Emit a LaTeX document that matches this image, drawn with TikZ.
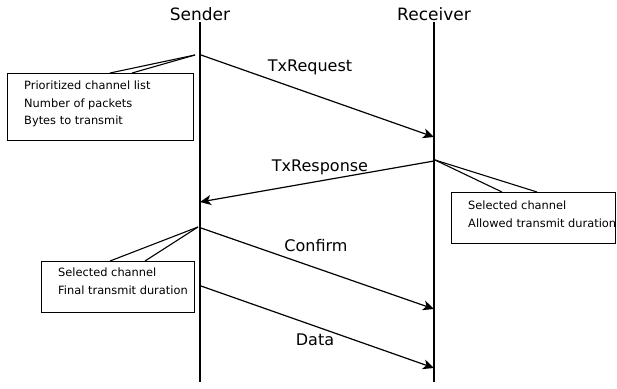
\documentclass[tikz,border=0pt]{standalone}
\usepackage{fontspec}
\setmainfont{DejaVu Sans}
\usetikzlibrary{arrows.meta}
\begin{document}
\begin{tikzpicture}[x=1pt,y=-1pt,
  lifeline/.style={line width=1.2pt},
  msg/.style={line width=1.2pt,-{Stealth[length=11pt,width=10pt,inset=3pt]}},
  callout/.style={line width=1.1pt},
  notebox/.style={draw,line width=1.1pt,fill=white},
  head/.style={font=\fontsize{17}{20}\selectfont,inner sep=0pt},
  lbl/.style={font=\fontsize{16}{19}\selectfont,inner sep=0pt},
  notetext/.style={font=\fontsize{11.4}{17.5}\selectfont,align=left,anchor=north west,inner sep=0pt}]
\useasboundingbox (0,0) rectangle (617,388);
% heads
\node[head] (snd) at (200,14) {Sender};
\node[head] (rcv) at (434,14) {Receiver};
\coordinate (sTop) at (200,22);
\coordinate (sBot) at (200,382);
\coordinate (rTop) at (434,22);
\coordinate (rBot) at (434,382);
\draw[lifeline] (sTop) -- (sBot);
\draw[lifeline] (rTop) -- (rBot);
% message points
\coordinate (m1a) at (201,55);
\coordinate (m1b) at (434,137);
\coordinate (m2a) at (434,161);
\coordinate (m2b) at (200,202);
\coordinate (m3a) at (201,228);
\coordinate (m3b) at (434,309);
\coordinate (m4a) at (201,286);
\coordinate (m4b) at (434,368);
\draw[msg] (m1a) -- (m1b);
\draw[msg] (m2a) -- (m2b);
\draw[msg] (m3a) -- (m3b);
\draw[msg] (m4a) -- (m4b);
\node[lbl] (l1) at (310,67) {TxRequest};
\node[lbl] (l2) at (320,167) {TxResponse};
\node[lbl] (l3) at (316,246) {Confirm};
\node[lbl] (l4) at (315,340) {Data};
% note 1
\coordinate (c1) at (195,55);
\coordinate (c1a) at (110,73);
\coordinate (c1b) at (132,73);
\draw[callout] (c1) -- (c1a);
\draw[callout] (c1) -- (c1b);
\node[notebox,anchor=north west,minimum width=186pt,minimum height=67pt] (n1) at (7,73) {};
\node[notetext] (t1) at (24,81) {Prioritized channel list\\Number of packets\\Bytes to transmit};
% note 2
\coordinate (c2) at (435,160);
\coordinate (c2a) at (502,192);
\coordinate (c2b) at (537,192);
\draw[callout] (c2) -- (c2a);
\draw[callout] (c2) -- (c2b);
\node[notebox,anchor=north west,minimum width=164pt,minimum height=51pt] (n2) at (451,192) {};
\node[notetext] (t2) at (468,201) {Selected channel\\Allowed transmit duration};
% note 3
\coordinate (c3) at (198,227);
\coordinate (c3a) at (110,261);
\coordinate (c3b) at (145,261);
\draw[callout] (c3) -- (c3a);
\draw[callout] (c3) -- (c3b);
\node[notebox,anchor=north west,minimum width=153pt,minimum height=51pt] (n3) at (41,261) {};
\node[notetext] (t3) at (58,268) {Selected channel\\Final transmit duration};
\end{tikzpicture}
\end{document}
